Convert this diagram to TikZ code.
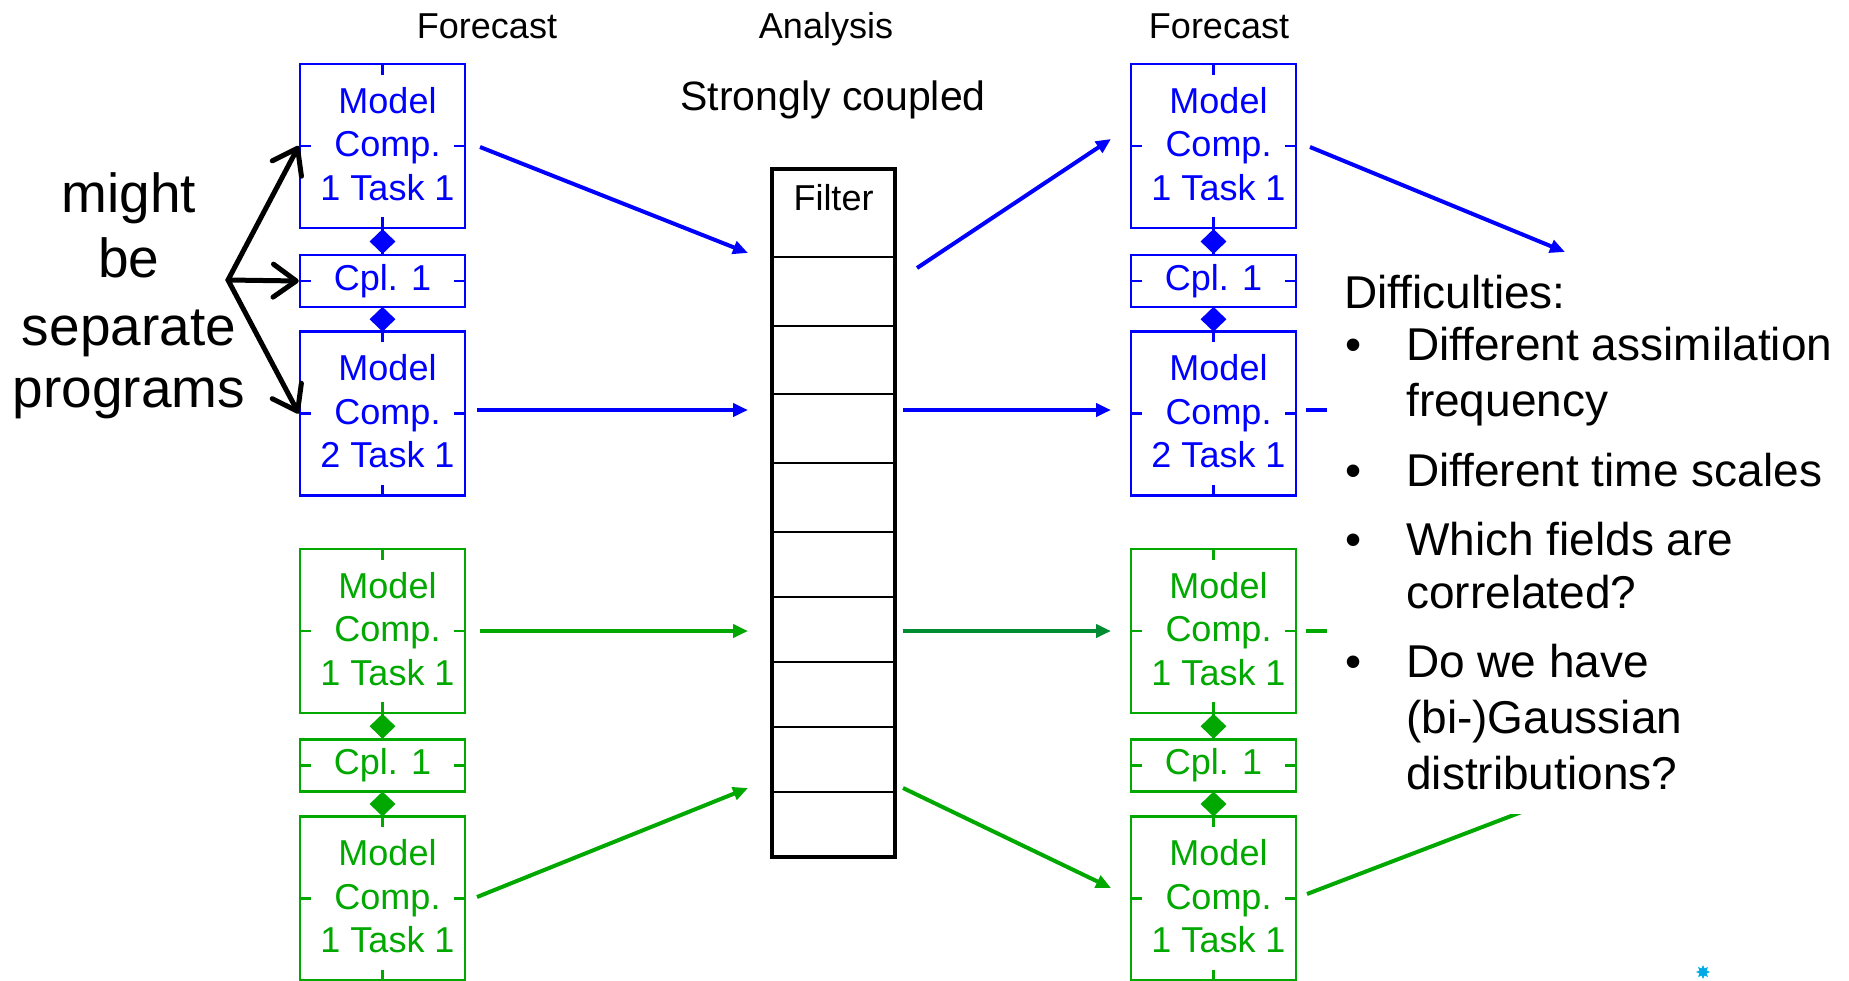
\documentclass[tikz,border=0pt]{standalone}
\usepackage{fontspec}
\setmainfont{Liberation Sans}
\usetikzlibrary{arrows.meta,shapes.geometric,calc}
\definecolor{mblue}{RGB}{0,0,255}
\definecolor{mgreen}{RGB}{0,168,0}
\definecolor{mdgreen}{RGB}{0,140,50}
\definecolor{logocyan}{RGB}{0,170,230}
\begin{document}
\begin{tikzpicture}[x=1pt,y=-1pt,
  comp/.style={draw=#1,line width=2.5pt,minimum width=165pt,minimum height=164pt,inner sep=0pt},
  comptext/.style={text=#1,inner sep=0pt,align=center,font=\fontsize{36}{43.5}\selectfont},
  cpl/.style={draw=#1,text=#1,line width=2.5pt,minimum width=165pt,minimum height=52pt,inner sep=0pt,font=\fontsize{36}{43}\selectfont},
  conn/.style={fill=#1,diamond,minimum width=26pt,minimum height=25pt,inner sep=0pt},
  tick/.style={line width=2.5pt},
  flow/.style={line width=4pt,-{Triangle[length=15pt,width=13pt]}},
  plain/.style={line width=4pt},
  fork/.style={line width=5pt,line cap=round,-{Straight Barb[length=23pt,width=33pt,round]}},
  head/.style={anchor=base,inner sep=0pt,font=\fontsize{36}{43}\selectfont},
  big/.style={anchor=base,inner sep=0pt,font=\fontsize{55}{65}\selectfont},
  txt/.style={anchor=base west,inner sep=0pt,font=\fontsize{46}{54}\selectfont}
]
\useasboundingbox (0,0) rectangle (1849,980);

% headers
\node[head] (h1) at (487,38) {Forecast};
\node[head] (h2) at (826,38) {Analysis};
\node[head] (h3) at (1219,38) {Forecast};
\node[anchor=base,inner sep=0pt,font=\fontsize{41}{48}\selectfont] (h4) at (833,110) {Strongly coupled};

% model stacks
\foreach \xx/\p in {382.5/l,1213.5/r}{
  \node[comp=mblue] (\p b1) at (\xx,146) {};
  \node[comptext=mblue] (\p b1t) at ($(\p b1)+(5,-2)$) {Model\\Comp.\\1 Task 1};
  \node[cpl=mblue] (\p c1) at (\xx,281) {Cpl. 1};
  \node[comp=mblue] (\p b2) at (\xx,413.5) {};
  \node[comptext=mblue] (\p b2t) at ($(\p b2)+(5,-2)$) {Model\\Comp.\\2 Task 1};
  \node[comp=mgreen] (\p g1) at (\xx,631) {};
  \node[comptext=mgreen] (\p g1t) at ($(\p g1)+(5,-2)$) {Model\\Comp.\\1 Task 1};
  \node[cpl=mgreen] (\p gc) at (\xx,765.5) {Cpl. 1};
  \node[comp=mgreen] (\p g2) at (\xx,898.5) {};
  \node[comptext=mgreen] (\p g2t) at ($(\p g2)+(5,-2)$) {Model\\Comp.\\1 Task 1};
}

% ticks
\foreach \n/\c in {lb1/mblue,rb1/mblue,lg1/mgreen,rg1/mgreen}{
  \draw[tick,\c] (\n.north) -- ++(0,12);
  \draw[tick,\c] (\n.west) -- ++(12,0);
  \draw[tick,\c] (\n.east) -- ++(-12,0);
}
\foreach \n/\c in {lb2/mblue,rb2/mblue,lg2/mgreen,rg2/mgreen}{
  \draw[tick,\c] (\n.south) -- ++(0,-12);
  \draw[tick,\c] (\n.west) -- ++(12,0);
  \draw[tick,\c] (\n.east) -- ++(-12,0);
}
\foreach \n/\c in {lc1/mblue,rc1/mblue,lgc/mgreen,rgc/mgreen}{
  \draw[tick,\c] (\n.west) -- ++(12,0);
  \draw[tick,\c] (\n.east) -- ++(-12,0);
}

% couplers with diamonds
\foreach \t/\m/\bt/\c in {lb1/lc1/lb2/mblue,rb1/rc1/rb2/mblue,lg1/lgc/lg2/mgreen,rg1/rgc/rg2/mgreen}{
  \draw[tick,\c] ($(\t.south)+(0,-12)$) -- (\m.north);
  \path (\t.south) -- (\m.north) node[midway,conn=\c] (\m-up) {};
  \draw[tick,\c] (\m.south) -- ($(\bt.north)+(0,12)$);
  \path (\m.south) -- (\bt.north) node[midway,conn=\c] (\m-dn) {};
}

% filter
\node[minimum width=123pt,minimum height=688pt,inner sep=0pt] (filt) at (833.5,513) {};
\foreach \yy in {257,326,394,463,532,597,662,727,792}{
  \draw[line width=2pt] (filt.west |- 0,\yy) -- (filt.east |- 0,\yy);
}
\draw[line width=3.5pt] (filt.north west) rectangle (filt.south east);
\node[head] (filtlab) at (833.5,210) {Filter};

% arrow end points
\coordinate (s1) at (480,147);  \coordinate (e1) at (748,253);
\coordinate (s2) at (477,410);  \coordinate (e2) at (748,410);
\coordinate (s3) at (480,631);  \coordinate (e3) at (748,631);
\coordinate (s4) at (477,897);  \coordinate (e4) at (748,788);
\coordinate (f1) at (917,268);  \coordinate (t1) at (1111,139);
\coordinate (f2) at (903,410);  \coordinate (t2) at (1111,410);
\coordinate (f3) at (903,631);  \coordinate (t3) at (1111,631);
\coordinate (f4) at (903,788);  \coordinate (t4) at (1111,888);
\coordinate (o1) at (1310,147); \coordinate (p1) at (1565,252);
\coordinate (o2) at (1306,410); \coordinate (p2) at (1420,410);
\coordinate (o3) at (1306,631); \coordinate (p3) at (1420,631);
\coordinate (o4) at (1307,894); \coordinate (p4) at (1600,782);

\draw[flow,mblue] (s1) -- (e1);
\draw[flow,mblue] (s2) -- (e2);
\draw[flow,mgreen] (s3) -- (e3);
\draw[flow,mgreen] (s4) -- (e4);
\draw[flow,mblue] (f1) -- (t1);
\draw[flow,mblue] (f2) -- (t2);
\draw[flow,mdgreen] (f3) -- (t3);
\draw[flow,mgreen] (f4) -- (t4);
\draw[flow,mblue] (o1) -- (p1);
\draw[plain,mblue] (o2) -- (p2);
\draw[plain,mgreen] (o3) -- (p3);
\draw[plain,mgreen] (o4) -- (p4);

% separate programs
\node[big] (m1) at (129,212) {might};
\node[big] (m2) at (129,277) {be};
\node[big] (m3) at (129,345) {separate};
\node[big] (m4) at (129,407) {programs};
\coordinate (fk) at (228,280);
\draw[fork] (fk) -- (lb1.west);
\draw[fork] (fk) -- (lc1.west);
\draw[fork] (fk) -- (lb2.west);

% difficulties text panel
\node[fill=white,anchor=north west,minimum width=522pt,minimum height=556pt,inner sep=0pt] (panel) at (1327,258) {};
\node[txt] (d0) at (1344,308) {Difficulties:};
\node[txt] (bu1) at (1345,360) {•};
\node[txt] (d1) at (1406,360) {Different assimilation};
\node[txt] (d1b) at (1406,416) {frequency};
\node[txt] (bu2) at (1345,486) {•};
\node[txt] (d2) at (1406,486) {Different time scales};
\node[txt] (bu3) at (1345,555) {•};
\node[txt] (d3) at (1406,555) {Which fields are};
\node[txt] (d3b) at (1406,608) {correlated?};
\node[txt] (bu4) at (1345,677) {•};
\node[txt] (d4) at (1406,677) {Do we have};
\node[txt] (d4b) at (1406,733) {(bi-)Gaussian};
\node[txt] (d4c) at (1406,789) {distributions?};

% logo fragment
\node[star,star points=8,star point ratio=1.8,fill=logocyan,minimum size=14pt,inner sep=0pt] (logo) at (1703,972) {};
\end{tikzpicture}
\end{document}
